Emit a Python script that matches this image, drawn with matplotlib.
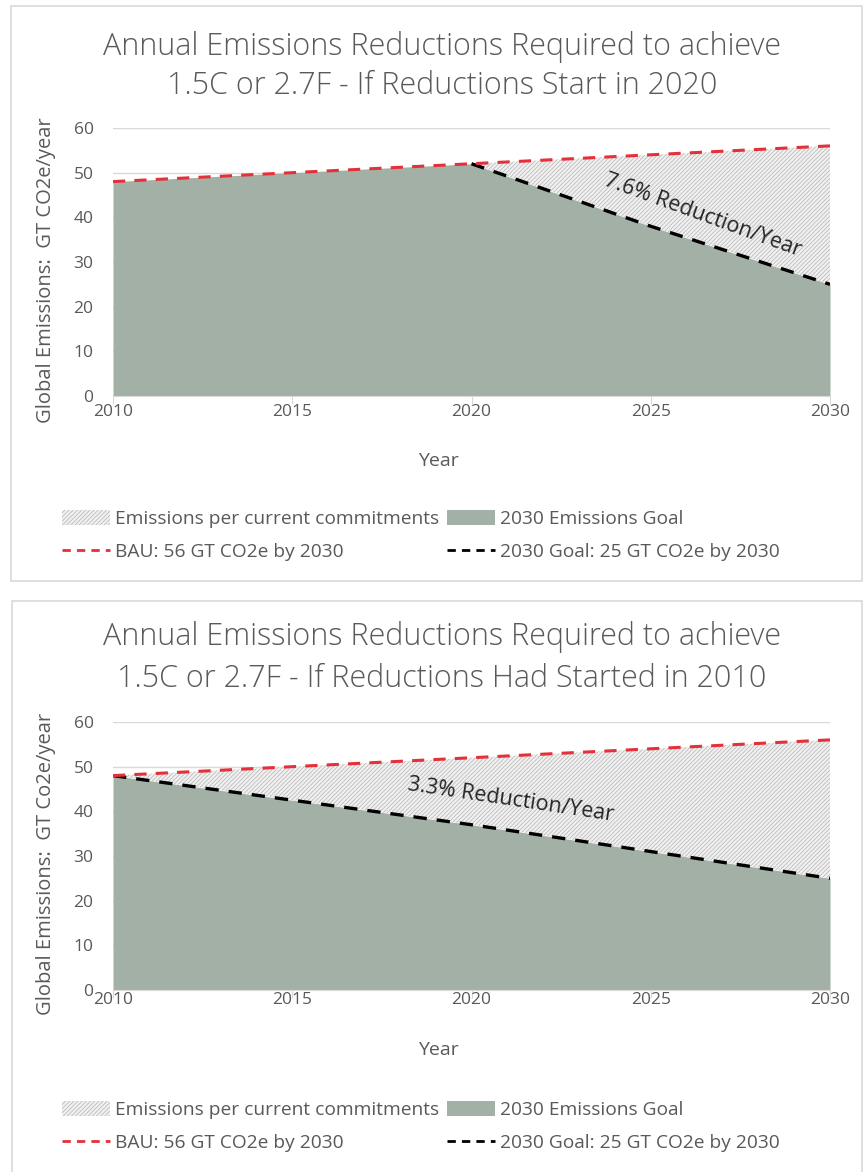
import matplotlib
matplotlib.use("Agg")
import matplotlib.pyplot as plt
from matplotlib.patches import Rectangle, Patch
from matplotlib.lines import Line2D

plt.rcParams['font.family'] = ['Open Sans', 'DejaVu Sans']
plt.rcParams['hatch.linewidth'] = 0.5
plt.rcParams['hatch.color'] = '#b4b4b4'

# data
years = [2010, 2015, 2020, 2025, 2030]
bau = [48, 50, 52, 54, 56]
goal_2020 = [48, 50, 52, 38, 25]
goal_2010 = [48, 42.5, 37, 31, 25]
xticks = [2010, 2015, 2020, 2025, 2030]
yticks = [0, 10, 20, 30, 40, 50, 60]

W, H = 865, 1172
TXT = '#595959'
GRID = '#d9d9d9'
GOAL_FILL = '#a3b0a6'
HATCH_BG = '#f0f0f0'
HATCH = '////////'

fig = plt.figure(figsize=(W / 100, H / 100), dpi=100)


def px(x, y):
    return x / W, 1 - y / H


def panel(box, titles, title_y, ax_box, ylab, goal, line_from, note, note_xy, note_rot,
          tick_y, year_y, leg_y):
    # outer frame
    x0, y0, x1, y1 = box
    fig.patches.append(Rectangle(px(x0, y1), (x1 - x0) / W, (y1 - y0) / H,
                                 transform=fig.transFigure, fill=False,
                                 edgecolor=GRID, lw=1.2))
    for t, ty in zip(titles, title_y):
        fig.text(*px(442, ty), t, ha='center', va='center', fontsize=22,
                 fontweight='light', color=TXT)

    l, t_, r, b = ax_box
    ax = fig.add_axes([l / W, 1 - b / H, (r - l) / W, (b - t_) / H])
    ax.fill_between(years, 0, goal, color=GOAL_FILL, lw=0, zorder=2)
    ax.fill_between(years, goal, bau, facecolor=HATCH_BG, hatch=HATCH,
                    edgecolor='#b4b4b4', lw=0, zorder=2)
    ax.plot(years[line_from:], goal[line_from:], color='black', lw=2.4,
            dashes=(4, 3), zorder=3)
    ax.plot(years, bau, color='#e5303a', lw=2.2, dashes=(4, 3), zorder=4)

    ax.set_xlim(2010, 2030)
    ax.set_ylim(0, 60)
    ax.set_xticks(xticks)
    ax.set_yticks(yticks)
    ax.yaxis.grid(True, color=GRID, lw=1, zorder=0)
    ax.set_axisbelow(True)
    for s in ['top', 'right', 'left']:
        ax.spines[s].set_visible(False)
    ax.spines['bottom'].set_color(GRID)
    ax.spines['bottom'].set_zorder(5)
    ax.tick_params(axis='y', length=0, pad=14, labelsize=12.5, labelcolor=TXT)
    ax.tick_params(axis='x', length=6, color=GRID, labelsize=12.5)
    ax.set_xticklabels([])
    for xv in xticks:
        fig.text((l + (xv - 2010) / 20 * (r - l)) / W, 1 - tick_y / H, str(xv),
                 ha='center', va='center', fontsize=12.5, color=TXT)
    ax.set_facecolor('none')

    fig.text(*px(438, year_y), 'Year', ha='center', va='center', fontsize=14, color=TXT)
    fig.text(*px(46, (t_ + b) / 2 + 8), ylab, ha='center', va='center', rotation=90,
             fontsize=14.5, color=TXT)

    ax.text(note_xy[0], note_xy[1], note, rotation=note_rot, rotation_mode='anchor',
            ha='center', va='center', fontsize=15.5, color='#262626', zorder=6)

    handles = [
        Patch(facecolor=HATCH_BG, hatch=HATCH, edgecolor='#b4b4b4', lw=0),
        Line2D([], [], color='#e5303a', lw=2, dashes=(3, 2.2)),
        Patch(facecolor=GOAL_FILL, lw=0),
        Line2D([], [], color='black', lw=2, dashes=(3, 2.2)),
    ]
    labels = ['Emissions per current commitments', 'BAU: 56 GT CO2e by 2030',
              '2030 Emissions Goal', '2030 Goal: 25 GT CO2e by 2030']
    fig.legend(handles, labels, ncol=2, loc='upper left',
               bbox_to_anchor=px(62, leg_y), frameon=False, fontsize=13.8,
               labelcolor=TXT, handlelength=2.5, handleheight=0.8,
               handletextpad=0.25, columnspacing=0.45, labelspacing=0.77,
               borderpad=0, borderaxespad=0)
    return ax


panel((11, 6, 862, 581),
      ['Annual Emissions Reductions Required to achieve',
       '1.5C or 2.7F - If Reductions Start in 2020'], (47, 86),
      (113, 128, 830, 396), 'Global Emissions:  GT CO2e/year',
      goal_2020, 2, '7.6% Reduction/Year', (2026.45, 40.5), -20,
      412, 461, 510)

panel((12, 601, 862, 1190),
      ['Annual Emissions Reductions Required to achieve',
       '1.5C or 2.7F - If Reductions Had Started in 2010'], (637, 679),
      (113, 722, 830, 990), 'Global Emissions:  GT Co2e/year',
      goal_2010, 0, '3.3% Reduction/Year', (2021.1, 42.5), -8.5,
      1000, 1050, 1101)

fig.savefig('out.png', dpi=100)
